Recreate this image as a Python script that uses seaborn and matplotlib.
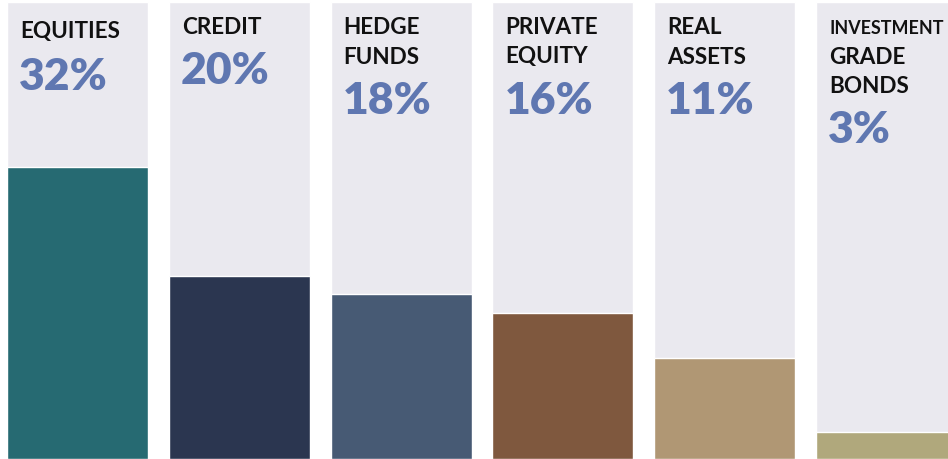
import matplotlib
matplotlib.use("Agg")
import matplotlib.pyplot as plt
import seaborn as sns
import pandas as pd

# Allocation by asset class (percent of portfolio)
categories = ["EQUITIES", "CREDIT", "HEDGE\nFUNDS", "PRIVATE\nEQUITY",
              "REAL\nASSETS", "INVESTMENT\nGRADE\nBONDS"]
values = [32, 20, 18, 16, 11, 3]
bar_colors = ["#266a72", "#2b3650", "#475a74", "#7f583e", "#b09774", "#b0a87c"]
scale_max = 50

TRACK = "#eae9ef"
PCT_COLOR = "#5f77b1"
BAR_W = 0.871
LABEL_SIZE = 16.2

sns.set_theme(style="white")
plt.rcParams["font.family"] = ["Lato", "DejaVu Sans"]

df = pd.DataFrame({"category": categories, "value": values,
                   "track": [scale_max] * len(categories)})

fig = plt.figure(figsize=(9.48, 4.60), dpi=100)
ax = fig.add_axes([0, 0, 1, 457 / 460])

# full-height background tracks, then the allocation bars on top
sns.barplot(data=df, x="category", y="track", color=TRACK, width=BAR_W,
            saturation=1, ax=ax, zorder=1)
sns.barplot(data=df, x="category", y="value", hue="category",
            palette=bar_colors, width=BAR_W, saturation=1, legend=False,
            ax=ax, zorder=2)

ax.set_xlim(-0.479, 5.380)
ax.set_ylim(0, scale_max)
ax.set_axis_off()

renderer = fig.canvas.get_renderer()
fig_w_px = fig.get_figwidth() * fig.dpi

# column labels and percentages, anchored at each column's top-left corner
line_pitch = 29.5
for i, (cat, val) in enumerate(zip(categories, values)):
    left = i - BAR_W / 2
    right_px = min(ax.transData.transform((i + BAR_W / 2, 0))[0], fig_w_px) - 5
    lines = cat.split("\n")
    first = 31 + (4 if i == 0 else 0)
    for k, line in enumerate(lines):
        t = ax.annotate(line, xy=(left, scale_max), xycoords="data",
                        xytext=(13, -(first + k * line_pitch)),
                        textcoords="offset pixels", ha="left", va="baseline",
                        fontsize=LABEL_SIZE, fontweight="bold", color="#111111",
                        zorder=3, annotation_clip=False)
        # shrink a line that would run past its column's visible edge
        bb = t.get_window_extent(renderer)
        if bb.x1 > right_px:
            t.set_fontsize(LABEL_SIZE * (right_px - bb.x0) / bb.width)
    pct_base = first + (len(lines) - 1) * line_pitch + 50 + (2 if i == 0 else 0)
    ax.annotate(f"{val}%", xy=(left, scale_max), xycoords="data",
                xytext=(12, -pct_base), textcoords="offset pixels",
                ha="left", va="baseline", fontsize=32, fontweight="heavy",
                color=PCT_COLOR, zorder=3, annotation_clip=False)

fig.savefig("out.png", dpi=100, facecolor="white")
